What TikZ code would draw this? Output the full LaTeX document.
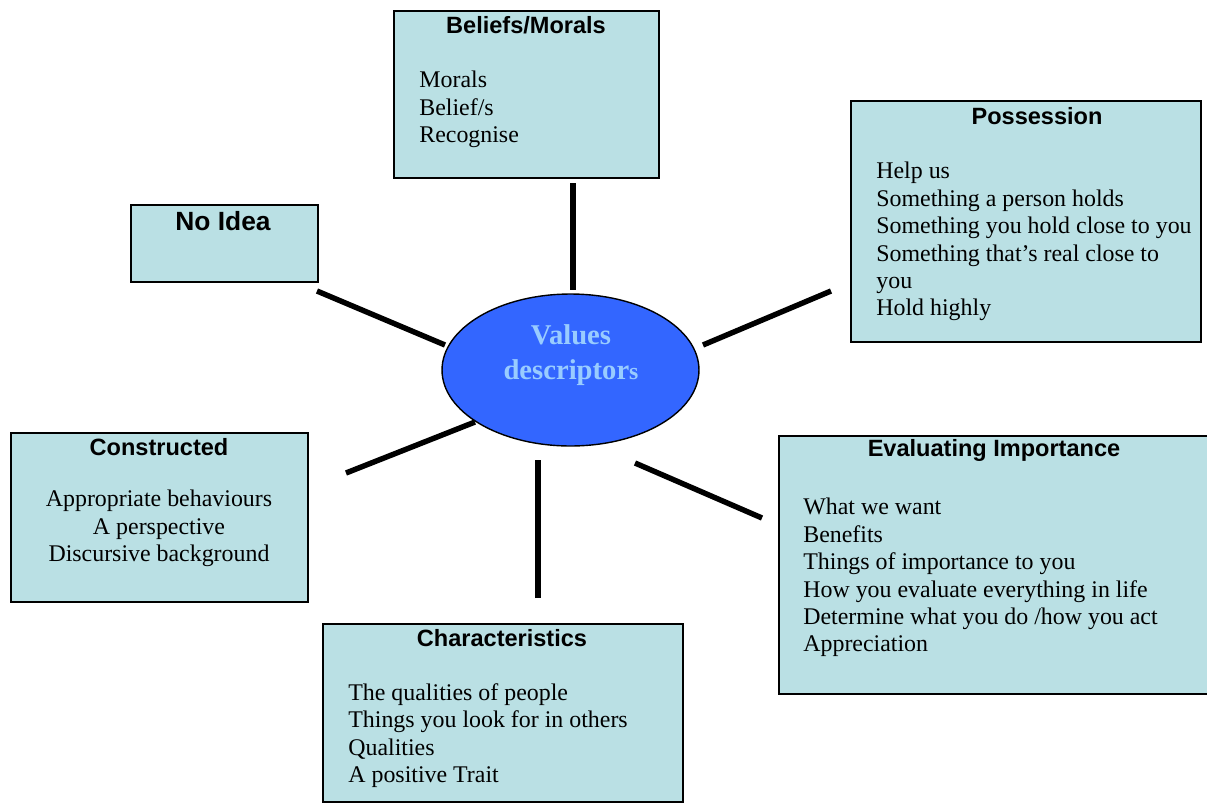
\documentclass[tikz,border=0pt]{standalone}
\usepackage{fontspec}
\setmainfont{Liberation Serif}
\newfontfamily\headfont{Liberation Sans}
\usetikzlibrary{shapes.geometric}
\definecolor{boxfill}{RGB}{186,224,228}
\definecolor{hubfill}{RGB}{51,102,255}
\definecolor{hubtext}{RGB}{153,204,255}

\begin{document}
\begin{tikzpicture}[x=0.02cm,y=-0.02cm,
    box/.style={draw, line width=1.1pt, fill=boxfill, anchor=north west, inner sep=0pt},
    head/.style={font=\headfont\bfseries\fontsize{13.4}{16}\selectfont, inner sep=0pt},
    body/.style={font=\fontsize{13.6}{15.6}\selectfont, align=left, anchor=north west, inner sep=0pt},
    spoke/.style={line width=3.1pt}]
    \useasboundingbox (0,0) rectangle (1207,802);
    \clip (0,0) rectangle (1207,802);

    % boxes
    \node[box, minimum width=5.3cm, minimum height=3.34cm] (beliefs) at (393,10) {};
    \node[box, minimum width=7cm, minimum height=4.82cm] (possession) at (850,100) {};
    \node[box, minimum width=3.74cm, minimum height=1.54cm] (noidea) at (130,204) {};
    \node[box, minimum width=5.94cm, minimum height=3.38cm] (constructed) at (10,432) {};
    \node[box, minimum width=8.8cm, minimum height=5.16cm] (evaluating) at (778,435) {};
    \node[box, minimum width=7.2cm, minimum height=3.56cm] (characteristics) at (322,623) {};

    % titles
    \node[head] (beliefshead) at (526,25) {Beliefs/Morals};
    \node[head] (possessionhead) at (1037,116) {Possession};
    \node[head, font=\headfont\bfseries\fontsize{15}{18}\selectfont] (noideahead) at (223,221) {No Idea};
    \node[head] (constructedhead) at (159,447) {Constructed};
    \node[head] (evaluatinghead) at (994,450) {Evaluating Importance};
    \node[head] (characteristicshead) at (502,638) {Characteristics};

    % lists
    \node[body] (beliefstext) at (419,71) {Morals\\Belief/s\\Recognise};
    \node[body] (possessiontext) at (876,162) {Help us\\Something a person holds\\Something you hold close to you\\Something that’s real close to\\you\\Hold highly};
    \node[body, align=center, anchor=north] (constructedtext) at (159,490) {Appropriate behaviours\\A perspective\\Discursive background};
    \node[body] (evaluatingtext) at (803,498) {What we want\\Benefits\\Things of importance to you\\How you evaluate everything in life\\Determine what you do /how you act\\Appreciation};
    \node[body] (characteristicstext) at (348,683) {The qualities of people\\Things you look for in others\\Qualities\\A positive Trait};

    % centre
    \node[ellipse, draw, line width=0.8pt, fill=hubfill, minimum width=5.14cm, minimum height=3.04cm] (hub) at (570.5,370) {};
    \node[align=center, text=hubtext, font=\bfseries\fontsize{16.3}{19.8}\selectfont] (hublabel) at (571,355) {Values\\descriptor{\fontsize{13.5}{16}\selectfont s}};

    % spokes
    \coordinate (topa) at (573,183);
    \coordinate (topb) at (573,290);
    \coordinate (ula) at (317,291);
    \coordinate (ulb) at (445,345);
    \coordinate (ura) at (831,291);
    \coordinate (urb) at (703,345);
    \coordinate (lla) at (346,473);
    \coordinate (llb) at (475,422);
    \coordinate (bota) at (538,598);
    \coordinate (botb) at (538,460);
    \coordinate (lra) at (762,518);
    \coordinate (lrb) at (635,463);
    \draw[spoke] (topa) -- (topb);
    \draw[spoke] (ula) -- (ulb);
    \draw[spoke] (ura) -- (urb);
    \draw[spoke] (lla) -- (llb);
    \draw[spoke] (bota) -- (botb);
    \draw[spoke] (lra) -- (lrb);
\end{tikzpicture}
\end{document}
